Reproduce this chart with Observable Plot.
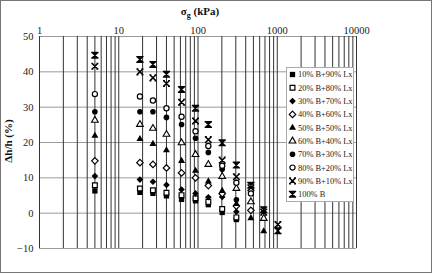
<!DOCTYPE html>
<html><head><meta charset="utf-8">
<script src="https://cdn.jsdelivr.net/npm/d3@7"></script>
<script src="https://cdn.jsdelivr.net/npm/@observablehq/plot@0.6"></script>
<style>
body{margin:0;background:#fff}
#chart{width:433px;height:275px}
svg{display:block}
</style>
</head><body><div id="chart"></div>
<script>
// σg (kPa) columns
const sigma = [5, 18.5, 27, 40, 62, 93, 135, 202, 305, 465, 675, 1020];
const seriesNames = ["10% B+90% Lx","20% B+80% Lx","30% B+70% Lx","40% B+60% Lx","50% B+50% Lx",
                     "60% B+40% Lx","70% B+30% Lx","80% B+20% Lx","90% B+10% Lx","100% B"];
const b10  = [6.3, 5.9, 5.6, 4.9, 3.9, 3.5, 2.4, 0.2, -1.8, null, null, null];
const b20  = [7.9, 7.0, 6.5, 5.8, 5.1, 4.2, 3.2, 1.2, -1.2, null, null, null];
const b30  = [10.5, 9.5, 8.9, 8.0, 6.7, 5.6, 4.5, 4.6, 0.4, null, null, null];
const b40  = [14.8, 14.3, 13.8, 12.8, 11.4, 10.0, 7.8, 5.5, 2.0, 0.8, null, null];
const b50  = [21.9, 21.0, 19.6, 17.8, 14.8, 12.0, 9.0, 6.3, 2.6, -1.4, -5.1, null];
const b60  = [26.3, 25.1, 24.0, 22.3, 19.9, 16.6, 13.8, 10.4, 7.0, 3.2, -1.5, null];
const b70  = [28.7, 28.7, 28.7, 27.1, 25.1, 21.2, 17.2, 12.4, 3.8, null, null, null];
const b80  = [33.7, 33.0, 31.9, 29.7, 27.3, 23.2, 19.0, 13.4, 8.6, 5.6, null, null];
const b90  = [41.6, 40.0, 38.3, 36.7, 31.4, 26.1, 20.8, 15.0, 10.3, 7.2, 0.3, -3.2];
const b100 = [44.7, 43.5, 42.1, 39.3, 35.0, 29.7, 25.1, 19.9, 13.6, 7.9, 1.0, -5.0];
const seriesValues = [b10, b20, b30, b40, b50, b60, b70, b80, b90, b100];
const xTickLabels = [1, 10, 100, 1000, 10000];
const yTicks = [-10, 0, 10, 20, 30, 40, 50];

// custom marker shapes
const symX = {draw(c, size){ const r = Math.sqrt(size/Math.PI);
  c.moveTo(-r,-r); c.lineTo(r,r); c.moveTo(r,-r); c.lineTo(-r,r);
  c.moveTo(-r*1.25,-r); c.lineTo(-r*0.55,-r); c.moveTo(r*0.55,-r); c.lineTo(r*1.25,-r);
  c.moveTo(-r*1.25,r); c.lineTo(-r*0.55,r); c.moveTo(r*0.55,r); c.lineTo(r*1.25,r); }};
const symB = {draw(c, size){ const r = Math.sqrt(size/Math.PI);
  c.moveTo(-r,-r); c.lineTo(r,r); c.moveTo(r,-r); c.lineTo(-r,r);
  c.moveTo(0,-r); c.lineTo(0,r);
  c.moveTo(-r*1.3,-r); c.lineTo(r*1.3,-r);
  c.moveTo(-r*1.3,r); c.lineTo(r*1.3,r); }};

const styles = [
  {symbol:"square", fill:"black", stroke:"none", r:3},
  {symbol:"square", fill:"white", stroke:"black", strokeWidth:1.2, r:2.7},
  {symbol:"diamond2", fill:"black", stroke:"none", r:3},
  {symbol:"diamond2", fill:"white", stroke:"black", strokeWidth:1.2, r:2.9},
  {symbol:"triangle", fill:"black", stroke:"none", r:2.6},
  {symbol:"triangle", fill:"white", stroke:"black", strokeWidth:1.1, r:2.5},
  {symbol:"circle", fill:"black", stroke:"none", r:2.8},
  {symbol:"circle", fill:"white", stroke:"black", strokeWidth:1.2, r:2.6},
  {symbol:symX, fill:"none", stroke:"black", strokeWidth:1.5, r:2.8},
  {symbol:symB, fill:"none", stroke:"black", strokeWidth:1.4, r:2.8}
];

const rows = [];
seriesNames.forEach((name, i) => {
  seriesValues[i].forEach((v, j) => { if (v !== null) rows.push({series: name, sigma: sigma[j], value: v}); });
});

const minorTicks = [];
for (let k = 0; k < 4; k++) for (let m = 1; m < 10; m++) minorTicks.push(m * Math.pow(10, k));
minorTicks.push(10000);

const serif = "'Liberation Serif','Times New Roman',serif";

const plot = Plot.plot({
  width: 433, height: 275,
  marginLeft: 39, marginRight: 77, marginTop: 36, marginBottom: 27,
  style: {fontFamily: serif, fontSize: "10.5px", color: "#222", background: "#fff"},
  x: {type: "log", domain: [1, 10000], axis: null},
  y: {domain: [-10, 50], axis: null},
  marks: [
    Plot.gridY(yTicks, {stroke: "#9a9a9a", strokeOpacity: 1, strokeWidth: 1}),
    Plot.gridX(minorTicks, {stroke: "#333", strokeOpacity: 1, strokeWidth: 1}),
    Plot.axisX(xTickLabels, {anchor: "top", tickSize: 0, tickPadding: 3, tickFormat: d => String(d), label: null}),
    Plot.axisY(yTicks, {anchor: "left", tickSize: 0, tickPadding: 6, label: null}),
    ...seriesNames.map((name, i) => Plot.dot(rows.filter(d => d.series === name), {
      x: "sigma", y: "value", ...styles[i]
    }))
  ]
});
document.getElementById("chart").appendChild(plot);

const svg = d3.select(plot);
// outer frame
svg.append("rect").attr("x", 0.5).attr("y", 0.5).attr("width", 431).attr("height", 272)
  .attr("fill", "none").attr("stroke", "#777");
// titles
const t = svg.append("text").attr("x", 200).attr("y", 15).attr("text-anchor", "middle")
  .attr("font-weight", "bold").attr("font-size", "11px").attr("fill", "#111");
t.append("tspan").text("σ");
t.append("tspan").attr("font-size", "8px").attr("dy", "3").text("g");
t.append("tspan").attr("dy", "-3").text(" (kPa)");
svg.append("text").attr("transform", "translate(12,141) rotate(-90)").attr("text-anchor", "middle")
  .attr("font-weight", "bold").attr("font-size", "11px").attr("fill", "#111").text("Δh/h (%)");

// legend
const d3Sym = {square: d3.symbolSquare, diamond2: d3.symbolDiamond2, triangle: d3.symbolTriangle, circle: d3.symbolCircle};
const lg = svg.append("g").attr("text-anchor", "start");
lg.append("rect").attr("x", 286.5).attr("y", 67.5).attr("width", 67).attr("height", 134)
  .attr("fill", "white").attr("stroke", "#aaa");
seriesNames.forEach((name, i) => {
  const s = styles[i];
  const cy = 74.5 + i * 13.3;
  const type = typeof s.symbol === "string" ? d3Sym[s.symbol] : s.symbol;
  lg.append("path").attr("transform", `translate(292.5,${cy})`)
    .attr("d", d3.symbol(type, s.r * s.r * Math.PI)())
    .attr("fill", s.fill).attr("stroke", s.stroke).attr("stroke-width", s.strokeWidth || 0);
  lg.append("text").attr("x", 298).attr("y", cy).attr("dy", "0.35em").attr("text-anchor", "start")
    .attr("font-size", "8.4px").attr("fill", "#222").text(name);
});
</script>
</body></html>
